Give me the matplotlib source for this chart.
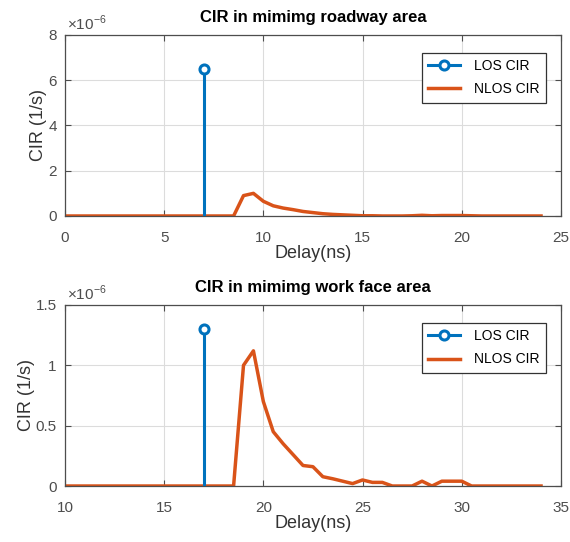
import matplotlib
matplotlib.use("Agg")
import matplotlib.pyplot as plt
from matplotlib.ticker import FuncFormatter
from matplotlib.legend_handler import HandlerLine2D

plt.rcParams['font.family'] = ['Liberation Sans', 'DejaVu Sans']
plt.rcParams['mathtext.fontset'] = 'custom'
plt.rcParams['mathtext.rm'] = 'Liberation Sans'

# roadway area
road_los_delay = [7]
road_los_cir = [6.5e-6]
road_delay = [0, 8.5, 9, 9.5, 10, 10.5, 11, 11.5, 12, 12.5, 13, 13.5, 14, 14.5,
              15, 15.5, 16, 17, 17.5, 18, 18.5, 19, 19.5, 20, 20.5, 21, 24]
road_cir = [0, 0, 0.9, 1.0, 0.65, 0.45, 0.35, 0.28, 0.2, 0.15, 0.1, 0.07, 0.05, 0.03,
            0.01, 0.01, 0, 0, 0.01, 0.03, 0.01, 0.02, 0.02, 0.02, 0.01, 0, 0]
road_cir = [v * 1e-6 for v in road_cir]
road_yticks = [0, 2e-6, 4e-6, 6e-6, 8e-6]

# work face area
face_los_delay = [17]
face_los_cir = [1.3e-6]
face_delay = [10, 18.5, 19, 19.5, 20, 20.5, 21, 21.5, 22, 22.5, 23, 23.5, 24, 24.5,
              25, 25.5, 26, 26.5, 27, 27.5, 28, 28.5, 29, 29.5, 30, 30.5, 34]
face_cir = [0, 0, 1.0, 1.12, 0.70, 0.45, 0.35, 0.26, 0.17, 0.16, 0.077, 0.06, 0.04, 0.02,
            0.05, 0.03, 0.03, 0, 0, 0, 0.04, 0, 0.04, 0.04, 0.04, 0, 0]
face_cir = [v * 1e-6 for v in face_cir]
face_yticks = [0, 0.5e-6, 1e-6, 1.5e-6]

blue = '#0072BD'
orange = '#D95319'
axcol = '#4d4d4d'


class EndMarkerHandler(HandlerLine2D):
    # marker at the right end of the legend line, like MATLAB stem legends
    def get_xdata(self, legend, xdescent, ydescent, width, height, fontsize):
        xdata, _ = super().get_xdata(legend, xdescent, ydescent, width, height, fontsize)
        return xdata, [xdata[-1]]


fig = plt.figure(figsize=(5.7, 5.42), dpi=100)
ax1 = fig.add_axes([0.114, 0.6015, 0.870, 0.334])
ax2 = fig.add_axes([0.114, 0.1033, 0.870, 0.334])


def draw(ax, los_x, los_y, x, y, title, xlim, ylim, yticks):
    ax.vlines(los_x, 0, los_y, color=blue, lw=2.2, zorder=3)
    ax.plot(los_x, los_y, 'o', mfc='white', mec=blue, mew=2.2, ms=6.5, zorder=4)
    ax.plot(x, y, color=orange, lw=2.5, zorder=2)
    ax.set_xlim(*xlim)
    ax.set_ylim(*ylim)
    ax.set_yticks(yticks)
    ax.yaxis.set_major_formatter(FuncFormatter(lambda v, p: '%g' % round(v * 1e6, 6)))
    ax.text(0.005, 1.01, r'$\times10^{-6}$', transform=ax.transAxes,
            fontsize=11, color=axcol, ha='left', va='bottom')
    ax.grid(True, color='#dcdcdc', lw=0.8)
    ax.set_axisbelow(True)
    ax.tick_params(direction='in', top=True, right=True, colors=axcol,
                   labelsize=11, length=4)
    ax.tick_params(axis='x', pad=11)
    ax.tick_params(axis='y', pad=6)
    for s in ax.spines.values():
        s.set_color(axcol)
        s.set_linewidth(0.9)
    ax.set_title(title, fontsize=12, fontweight='bold', pad=9)
    ax.set_xlabel('Delay(ns)', fontsize=13, color='#333333', labelpad=0)
    ax.set_ylabel('CIR (1/s)', fontsize=13, color='#333333', labelpad=0.5)
    h1, = ax.plot([], [], '-o', color=blue, mfc='white', mec=blue, mew=2.2, ms=6.5, lw=2.2)
    h2, = ax.plot([], [], color=orange, lw=2.5)
    leg = ax.legend([h1, h2], ['LOS CIR', 'NLOS CIR'], loc='upper right',
                    bbox_to_anchor=(0.97, 0.90), fancybox=False, framealpha=1,
                    edgecolor='#333333', fontsize=10, handlelength=2.3,
                    handletextpad=1.0, borderpad=0.45, labelspacing=0.65,
                    borderaxespad=0, handler_map={h1: EndMarkerHandler()})
    leg.get_frame().set_linewidth(0.9)


draw(ax1, road_los_delay, road_los_cir, road_delay, road_cir,
     'CIR in mimimg roadway area', (0, 25), (0, 8e-6), road_yticks)
draw(ax2, face_los_delay, face_los_cir, face_delay, face_cir,
     'CIR in mimimg work face area', (10, 35), (0, 1.5e-6), face_yticks)

fig.savefig('out.png', dpi=100)
